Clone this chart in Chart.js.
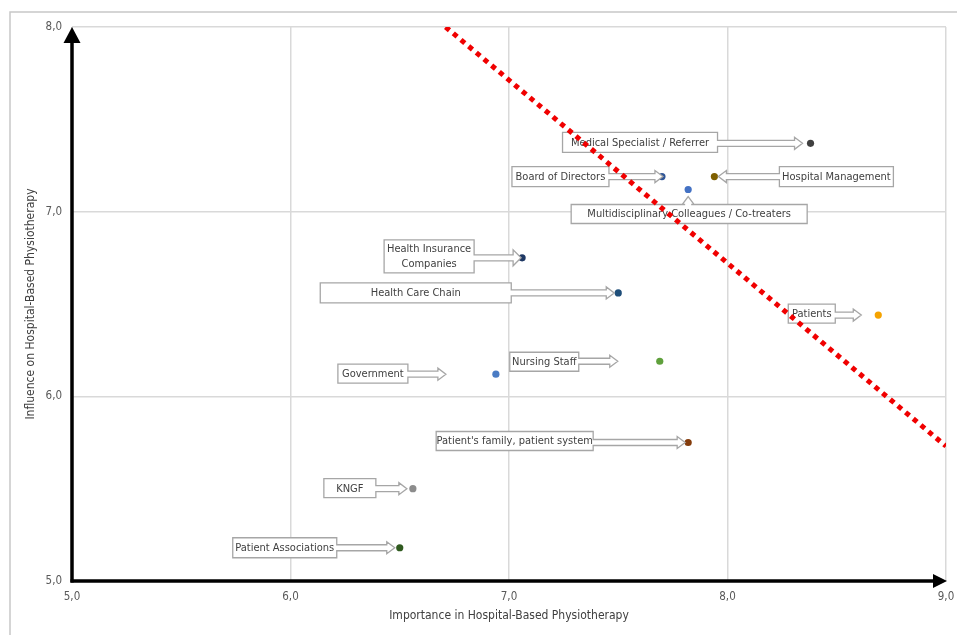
<!DOCTYPE html>
<html><head><meta charset="utf-8">
<script src="https://cdn.jsdelivr.net/npm/chart.js@4.4.1/dist/chart.umd.min.js"></script>
<style>html,body{margin:0;padding:0;background:#fff;}</style>
</head><body>
<canvas id="c" width="957" height="635"></canvas>
<script>
// ---- data ----
const stakeholders = [
  'Medical Specialist / Referrer', 'Board of Directors', 'Hospital Management',
  'Multidisciplinary Colleagues / Co-treaters', 'Health Insurance Companies', 'Health Care Chain',
  'Patients', 'Nursing Staff', 'Government', "Patient's family, patient system",
  'KNGF', 'Patient Associations'
];
const importance = [8.38, 7.70, 7.94, 7.82, 7.06, 7.50, 8.69, 7.69, 6.94, 7.82, 6.56, 6.50];
const influence  = [7.37, 7.19, 7.19, 7.12, 6.75, 6.56, 6.44, 6.19, 6.12, 5.75, 5.50, 5.18];
const pointColors = ['#404040', '#2f5597', '#7f6000', '#4472c4', '#1f3864', '#1f4e79',
  '#f5a300', '#5fa03c', '#4a7cc4', '#843c0c', '#8c8c8c', '#2f5a1f'];
const trendX = [6.71, 9.0];
const trendY = [8.0, 5.73];
const xTicks = [5, 6, 7, 8, 9];
const yTicks = [5, 6, 7, 8];
const xTitle = 'Importance in Hospital-Based Physiotherapy';
const yTitle = 'Influence on Hospital-Based Physiotherapy';

// ---- callout layout (pixel offsets from each point) ----
const calloutLayout = [
  {dir:'right', dx:-248, dy:-11, w:155, h:20, gap:8},
  {dir:'right', dx:-150, dy:-10, w:97,  h:20, gap:-1},
  {dir:'left',  dx:65,   dy:-10, w:114, h:20, gap:4},
  {dir:'up',    dx:-117, dy:15,  w:236, h:19, gap:7},
  {dir:'right', dx:-138, dy:-18, w:90,  h:33, gap:1, hh:16, lines:['Health Insurance','Companies']},
  {dir:'right', dx:-298, dy:-10, w:191, h:20, gap:4},
  {dir:'right', dx:-90,  dy:-11, w:47,  h:19, gap:17},
  {dir:'right', dx:-150, dy:-9,  w:69,  h:19, gap:42},
  {dir:'right', dx:-158, dy:-10, w:70,  h:19, gap:50},
  {dir:'right', dx:-252, dy:-11, w:157, h:19, gap:3},
  {dir:'right', dx:-89,  dy:-10, w:52,  h:19, gap:6},
  {dir:'right', dx:-167, dy:-10, w:104, h:20, gap:5}
];

const NARROW = '"Liberation Sans Narrow", "DejaVu Sans Condensed", sans-serif';
const fmt = v => Number(v).toFixed(1).replace('.', ',');

const framePlugin = {
  id: 'frame',
  beforeDraw(chart) {
    const ctx = chart.ctx;
    ctx.save();
    ctx.strokeStyle = '#c8c8c8';
    ctx.lineWidth = 1.5;
    ctx.beginPath();
    ctx.moveTo(10, 635); ctx.lineTo(10, 12); ctx.lineTo(957, 12);
    ctx.stroke();
    ctx.restore();
  }
};

const calloutPlugin = {
  id: 'callouts',
  afterDatasetDraw(chart, args) {
    if (args.index !== 1) return;
    const ctx = chart.ctx;
    const meta = chart.getDatasetMeta(1);
    ctx.save();
    meta.data.forEach((pt, i) => {
      const L = calloutLayout[i];
      const px = pt.x, py = pt.y;
      const x0 = px + L.dx, y0 = py + L.dy, x1 = x0 + L.w, y1 = y0 + L.h;
      const sh = 6, hh = L.hh || 12, hl = 8;
      ctx.beginPath();
      if (L.dir === 'right') {
        const cy = py, tip = px - L.gap;
        ctx.moveTo(x0, y0); ctx.lineTo(x1, y0); ctx.lineTo(x1, cy - sh/2);
        ctx.lineTo(tip - hl, cy - sh/2); ctx.lineTo(tip - hl, cy - hh/2); ctx.lineTo(tip, cy);
        ctx.lineTo(tip - hl, cy + hh/2); ctx.lineTo(tip - hl, cy + sh/2); ctx.lineTo(x1, cy + sh/2);
        ctx.lineTo(x1, y1); ctx.lineTo(x0, y1); ctx.closePath();
      } else if (L.dir === 'left') {
        const cy = py, tip = px + L.gap;
        ctx.moveTo(x0, y0); ctx.lineTo(x1, y0); ctx.lineTo(x1, y1); ctx.lineTo(x0, y1);
        ctx.lineTo(x0, cy + sh/2); ctx.lineTo(tip + hl, cy + sh/2); ctx.lineTo(tip + hl, cy + hh/2);
        ctx.lineTo(tip, cy); ctx.lineTo(tip + hl, cy - hh/2); ctx.lineTo(tip + hl, cy - sh/2);
        ctx.lineTo(x0, cy - sh/2); ctx.closePath();
      } else {
        const cx = px, tip = py + L.gap;
        ctx.moveTo(x0, y0); ctx.lineTo(cx - sh/2, y0); ctx.lineTo(cx - sh/2, tip + hl);
        ctx.lineTo(cx - hh/2, tip + hl); ctx.lineTo(cx, tip); ctx.lineTo(cx + hh/2, tip + hl);
        ctx.lineTo(cx + sh/2, tip + hl); ctx.lineTo(cx + sh/2, y0); ctx.lineTo(x1, y0);
        ctx.lineTo(x1, y1); ctx.lineTo(x0, y1); ctx.closePath();
      }
      ctx.fillStyle = '#ffffff';
      ctx.fill();
      ctx.strokeStyle = '#a6a6a6';
      ctx.lineWidth = 1.3;
      ctx.stroke();
      ctx.fillStyle = '#404040';
      ctx.font = '11px ' + NARROW;
      ctx.textAlign = 'center';
      ctx.textBaseline = 'middle';
      const lines = L.lines || [stakeholders[i]];
      const lh = 15, cxm = (x0 + x1) / 2, cym = (y0 + y1) / 2;
      lines.forEach((t, k) => {
        ctx.fillText(t, cxm, cym + (k - (lines.length - 1) / 2) * lh + 0.5);
      });
    });
    ctx.restore();
  }
};

const axisArrowPlugin = {
  id: 'axisArrows',
  afterDraw(chart) {
    const {left, right, top, bottom} = chart.chartArea;
    const ctx = chart.ctx;
    ctx.save();
    ctx.strokeStyle = '#000'; ctx.fillStyle = '#000'; ctx.lineWidth = 3.5;
    ctx.beginPath(); ctx.moveTo(left, bottom + 1.5); ctx.lineTo(left, top + 14); ctx.stroke();
    ctx.beginPath(); ctx.moveTo(left - 8.5, top + 16); ctx.lineTo(left, top); ctx.lineTo(left + 8.5, top + 16); ctx.closePath(); ctx.fill();
    ctx.beginPath(); ctx.moveTo(left - 1.5, bottom); ctx.lineTo(right - 10, bottom); ctx.stroke();
    ctx.beginPath(); ctx.moveTo(right - 13, bottom - 7); ctx.lineTo(right + 1, bottom); ctx.lineTo(right - 13, bottom + 7); ctx.closePath(); ctx.fill();
    ctx.restore();
  }
};

new Chart(document.getElementById('c'), {
  type: 'scatter',
  data: {
    datasets: [
      {
        data: trendX.map((x, i) => ({x, y: trendY[i]})),
        showLine: true,
        borderColor: '#f00000',
        borderWidth: 5,
        borderDash: [5, 5],
        pointRadius: 0,
        fill: false
      },
      {
        data: importance.map((x, i) => ({x, y: influence[i]})),
        pointBackgroundColor: pointColors,
        pointBorderWidth: 0,
        pointRadius: 3.6,
        showLine: false
      }
    ]
  },
  options: {
    responsive: false,
    animation: false,
    layout: {padding: {top: 27, right: 11, left: 0, bottom: 0}},
    plugins: {legend: {display: false}, tooltip: {enabled: false}},
    scales: {
      x: {
        type: 'linear', min: 5, max: 9,
        afterBuildTicks: s => { s.ticks = xTicks.map(v => ({value: v})); },
        afterFit: s => { s.height = 54; s.paddingRight = 0; s.paddingLeft = 0; },
        ticks: {callback: fmt, color: '#595959', font: {size: 11.5, family: NARROW}, padding: 9, maxRotation: 0},
        grid: {color: '#d9d9d9', lineWidth: 1.5, drawTicks: false},
        border: {display: false},
        title: {display: true, text: xTitle, color: '#404040', font: {size: 12, family: NARROW}, padding: {top: 0, bottom: 12}}
      },
      y: {
        type: 'linear', min: 5, max: 8,
        afterBuildTicks: s => { s.ticks = yTicks.map(v => ({value: v})); },
        afterFit: s => { s.width = 72; s.paddingTop = 0; s.paddingBottom = 0; },
        ticks: {callback: fmt, color: '#595959', font: {size: 11.5, family: NARROW}, padding: 10},
        grid: {color: '#d9d9d9', lineWidth: 1.5, drawTicks: false},
        border: {display: false},
        title: {display: true, text: yTitle, color: '#404040', font: {size: 12, family: NARROW}, padding: {top: 24, bottom: 0}}
      }
    }
  },
  plugins: [framePlugin, calloutPlugin, axisArrowPlugin]
});
</script>
</body></html>
